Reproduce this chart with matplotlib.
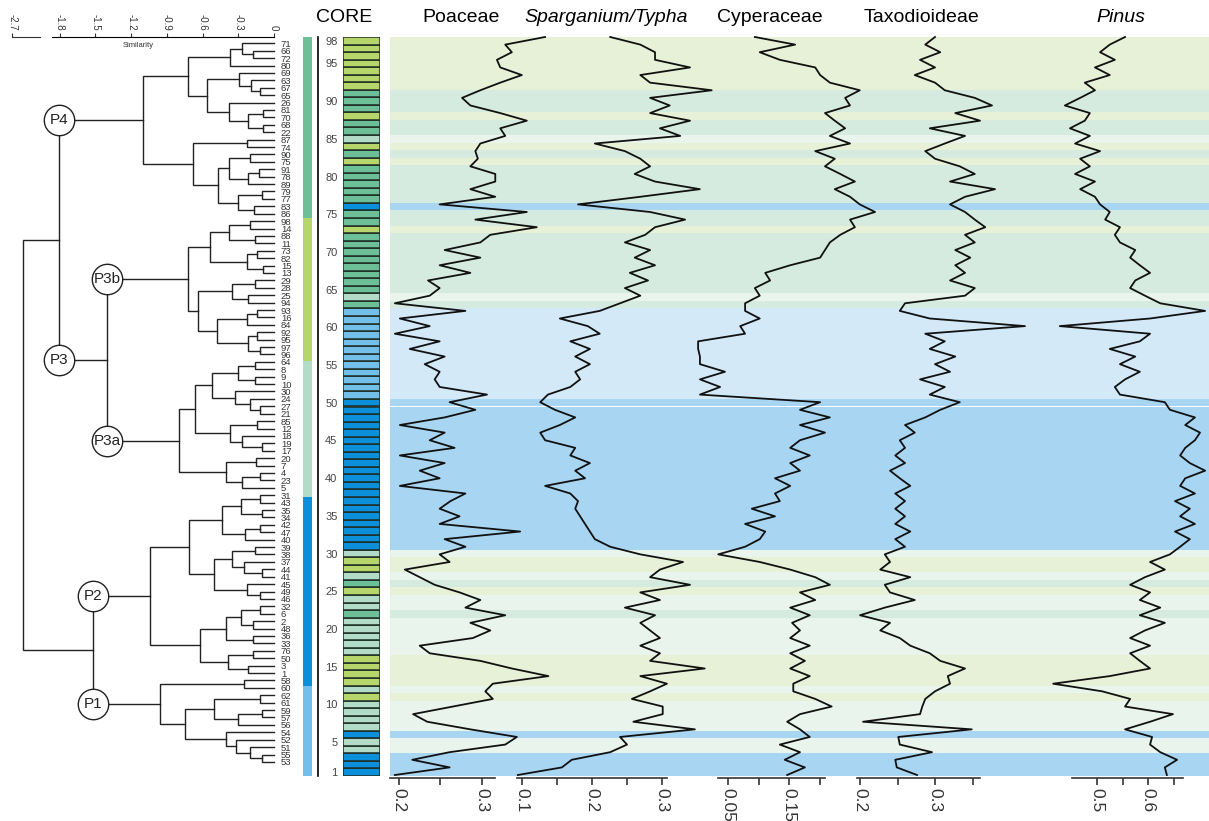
import numpy as np
import matplotlib.pyplot as plt

W, H = 1209, 821
plt.rcParams['font.family'] = ['Liberation Sans', 'DejaVu Sans']

# ---------------------------------------------------------------- data
samples = np.arange(1, 99)

poaceae = [0.195, 0.261, 0.216, 0.261, 0.328, 0.342, 0.286, 0.234, 0.217, 0.265,
           0.313, 0.304, 0.313, 0.380, 0.336, 0.298, 0.237, 0.225, 0.289, 0.310,
           0.286, 0.328, 0.280, 0.298, 0.273, 0.243, 0.225, 0.207, 0.261, 0.249,
           0.280, 0.255, 0.346, 0.249, 0.273, 0.249, 0.262, 0.280, 0.201, 0.249,
           0.225, 0.255, 0.201, 0.267, 0.237, 0.255, 0.201, 0.255, 0.292, 0.261,
           0.306, 0.249, 0.243, 0.249, 0.231, 0.255, 0.213, 0.249, 0.195, 0.237,
           0.201, 0.280, 0.195, 0.237, 0.249, 0.235, 0.286, 0.249, 0.298, 0.255,
           0.298, 0.310, 0.366, 0.292, 0.354, 0.249, 0.316, 0.286, 0.316, 0.316,
           0.286, 0.295, 0.292, 0.298, 0.328, 0.322, 0.354, 0.322, 0.286, 0.276,
           0.298, 0.322, 0.348, 0.322, 0.318, 0.336, 0.328, 0.376]

sparganium = [0.094, 0.157, 0.171, 0.226, 0.250, 0.240, 0.347, 0.259, 0.301, 0.301,
              0.257, 0.283, 0.307, 0.269, 0.361, 0.283, 0.297, 0.269, 0.297, 0.283,
              0.269, 0.290, 0.247, 0.297, 0.269, 0.340, 0.283, 0.297, 0.330, 0.269,
              0.226, 0.204, 0.197, 0.190, 0.183, 0.176, 0.180, 0.169, 0.133, 0.190,
              0.176, 0.197, 0.169, 0.176, 0.133, 0.126, 0.154, 0.176, 0.147, 0.126,
              0.137, 0.169, 0.183, 0.176, 0.197, 0.176, 0.197, 0.169, 0.211, 0.194,
              0.154, 0.211, 0.240, 0.269, 0.247, 0.280, 0.254, 0.290, 0.261, 0.283,
              0.247, 0.276, 0.290, 0.333, 0.283, 0.180, 0.269, 0.354, 0.290, 0.261,
              0.283, 0.269, 0.247, 0.204, 0.326, 0.297, 0.340, 0.283, 0.311, 0.283,
              0.371, 0.283, 0.269, 0.340, 0.290, 0.290, 0.269, 0.226]

cyperaceae = [0.147, 0.176, 0.143, 0.168, 0.135, 0.184, 0.168, 0.147, 0.168, 0.220,
              0.193, 0.157, 0.157, 0.184, 0.152, 0.176, 0.152, 0.184, 0.152, 0.168,
              0.155, 0.184, 0.152, 0.193, 0.168, 0.217, 0.193, 0.152, 0.102, 0.034,
              0.078, 0.102, 0.111, 0.078, 0.127, 0.089, 0.135, 0.127, 0.152, 0.127,
              0.168, 0.152, 0.184, 0.152, 0.168, 0.209, 0.168, 0.217, 0.168, 0.201,
              0.004, 0.037, 0.004, 0.045, 0.004, 0.004, 0.001, 0.001, 0.078, 0.070,
              0.102, 0.078, 0.078, 0.102, 0.094, 0.119, 0.111, 0.152, 0.201, 0.209,
              0.217, 0.234, 0.258, 0.250, 0.291, 0.266, 0.250, 0.225, 0.258, 0.234,
              0.209, 0.225, 0.193, 0.250, 0.217, 0.242, 0.225, 0.209, 0.250, 0.242,
              0.266, 0.217, 0.201, 0.193, 0.135, 0.102, 0.160, 0.094]

taxodioideae = [0.276, 0.249, 0.247, 0.296, 0.253, 0.251, 0.349, 0.204, 0.280, 0.283,
                0.287, 0.300, 0.320, 0.317, 0.340, 0.307, 0.293, 0.267, 0.253, 0.227,
                0.240, 0.200, 0.233, 0.273, 0.240, 0.233, 0.267, 0.227, 0.240, 0.233,
                0.260, 0.247, 0.267, 0.247, 0.260, 0.247, 0.260, 0.247, 0.267, 0.253,
                0.240, 0.260, 0.247, 0.260, 0.253, 0.273, 0.260, 0.287, 0.307, 0.333,
                0.293, 0.313, 0.280, 0.320, 0.300, 0.327, 0.293, 0.313, 0.287, 0.420,
                0.293, 0.253, 0.260, 0.340, 0.353, 0.320, 0.340, 0.327, 0.347, 0.327,
                0.353, 0.340, 0.367, 0.353, 0.340, 0.320, 0.340, 0.380, 0.320, 0.353,
                0.333, 0.300, 0.287, 0.313, 0.340, 0.293, 0.360, 0.327, 0.376, 0.353,
                0.313, 0.300, 0.273, 0.300, 0.280, 0.307, 0.287, 0.300]

pinus = [0.637, 0.633, 0.657, 0.624, 0.604, 0.608, 0.555, 0.604, 0.649, 0.555,
         0.565, 0.510, 0.414, 0.525, 0.604, 0.584, 0.565, 0.604, 0.565, 0.594,
         0.633, 0.584, 0.624, 0.584, 0.604, 0.565, 0.594, 0.633, 0.604, 0.643,
         0.663, 0.682, 0.653, 0.692, 0.663, 0.682, 0.653, 0.692, 0.663, 0.673,
         0.712, 0.682, 0.663, 0.673, 0.692, 0.702, 0.673, 0.692, 0.643, 0.633,
         0.545, 0.535, 0.555, 0.584, 0.545, 0.575, 0.525, 0.584, 0.604, 0.427,
         0.604, 0.712, 0.624, 0.594, 0.565, 0.575, 0.604, 0.584, 0.565, 0.575,
         0.545, 0.535, 0.545, 0.516, 0.525, 0.506, 0.496, 0.467, 0.496, 0.457,
         0.486, 0.467, 0.506, 0.457, 0.486, 0.447, 0.476, 0.486, 0.437, 0.467,
         0.496, 0.476, 0.525, 0.496, 0.535, 0.506, 0.525, 0.555]

taxa = ["Poaceae", "Sparganium/Typha", "Cyperaceae", "Taxodioideae", "Pinus"]
italic = [False, True, False, False, True]
series = [poaceae, sparganium, cyperaceae, taxodioideae, pinus]
major_ticks = [[0.2, 0.3], [0.1, 0.2, 0.3], [0.05, 0.15], [0.2, 0.3], [0.5, 0.6]]
minor_ticks = [[0.25], [0.15, 0.25], [0.1, 0.2], [0.25, 0.35], [0.55, 0.65]]


# cluster tree: (similarity of merge, left, right, group name)
def node(h, a, b, name=None):
    return {"h": h, "kids": (a, b), "name": name}


p4 = node(-1.10,
          node(-0.72,
               node(-0.37, node(-0.27, 71, node(-0.18, 66, 72)), 80),
               node(-0.56,
                    node(-0.29, 69, node(-0.19, 63, node(-0.12, 67, 65))),
                    node(-0.38, 26, node(-0.22, node(-0.09, 81, 70), node(-0.09, 68, 22))))),
          node(-0.68,
               node(-0.23, 87, 74),
               node(-0.47,
                    node(-0.38, node(-0.20, 90, 75), node(-0.22, node(-0.13, 91, 78), 89)),
                    node(-0.30, node(-0.10, 79, 77), node(-0.17, 83, 86)))),
          "P4")

p3b = node(-0.72,
           node(-0.54,
                node(-0.38, node(-0.20, 98, 14), node(-0.16, 88, 11)),
                node(-0.23, node(-0.14, 73, 82), node(-0.09, 15, 13))),
           node(-0.64,
                node(-0.35, node(-0.16, 29, 28), node(-0.22, 25, 94)),
                node(-0.48,
                     node(-0.23, node(-0.14, 93, 16), 84),
                     node(-0.22, node(-0.14, 92, 95), node(-0.12, 97, 96)))),
           "P3b")

p3a = node(-0.80,
           node(-0.66,
                node(-0.52,
                     node(-0.30, node(-0.16, 64, 8), node(-0.16, 9, 10)),
                     node(-0.33, 30, node(-0.20, 24, node(-0.12, 27, 21)))),
                node(-0.37, node(-0.14, 85, 12), node(-0.27, 18, node(-0.10, 19, 17)))),
           node(-0.40, node(-0.15, 20, 7), node(-0.27, node(-0.12, 4, 23), 5)),
           "P3a")

p2 = node(-1.04,
          node(-0.71,
               node(-0.44,
                    node(-0.28, node(-0.12, 31, 43), node(-0.10, 35, 34)),
                    node(-0.24, node(-0.12, 42, 47), 40)),
               node(-0.50,
                    node(-0.35, node(-0.16, 39, 38), node(-0.25, 37, node(-0.10, 44, 41))),
                    node(-0.23, 45, node(-0.12, 49, 46)))),
          node(-0.62,
               node(-0.40,
                    node(-0.28, node(-0.12, 32, 6), node(-0.18, 2, 48)),
                    node(-0.18, 36, 33)),
               node(-0.39, node(-0.18, 76, 50), node(-0.22, 3, 1))),
          "P2")

p1 = node(-0.96,
          node(-0.25, 58, 60),
          node(-0.75,
               node(-0.50, node(-0.12, 62, 61), node(-0.30, node(-0.10, 59, 57), 56)),
               node(-0.40, 54, node(-0.32, 52, node(-0.20, 51, node(-0.10, 55, 53))))),
          "P1")

tree = node(-2.5, node(-1.82, p4, node(-1.40, p3b, p3a, "P3")), node(-1.52, p2, p1))

group_order = ["P4", "P3b", "P3a", "P2", "P1"]
group_colors = {"P4": "#6cbf96", "P3b": "#b6d66b", "P3a": "#b3dcc8",
                "P2": "#0b8fda", "P1": "#72bfea"}
band_colors = {"P4": "#d6ebdf", "P3b": "#e7f1d7", "P3a": "#e8f4ec",
               "P2": "#a8d5f2", "P1": "#d3e9f8"}


def leaves(n):
    if isinstance(n, int):
        return [n]
    return leaves(n["kids"][0]) + leaves(n["kids"][1])


leaf_order = leaves(tree)
leaf_pos = {leaf: i for i, leaf in enumerate(leaf_order)}
group_of = {}
for g in (p4, p3b, p3a, p2, p1):
    for leaf in leaves(g):
        group_of[leaf] = g["name"]


def px_axes(fig, x0, y0, x1, y1):
    return fig.add_axes([x0 / W, 1 - y1 / H, (x1 - x0) / W, (y1 - y0) / H])


fig = plt.figure(figsize=(W / 100, H / 100), dpi=100)

# ---------------------------------------------------------------- dendrogram
ax_d = px_axes(fig, 0, 37, 274, 776)


def fwd(s):
    s = np.asarray(s, dtype=float)
    return np.where(s >= -1.8, s, -1.8 + (s + 1.8) * 0.444)


def inv(u):
    u = np.asarray(u, dtype=float)
    return np.where(u >= -1.8, u, -1.8 + (u + 1.8) / 0.444)


ax_d.set_xscale("function", functions=(fwd, inv))
ax_d.set_xlim(-2.93, 0)
ax_d.set_ylim(98.9, -0.85)

circles = []


def draw(n, parent_h=None):
    if isinstance(n, int):
        return leaf_pos[n], 0.0
    (y1, h1), (y2, h2) = draw(n["kids"][0], n["h"]), draw(n["kids"][1], n["h"])
    ax_d.plot([h1, n["h"], n["h"], h2], [y1, y1, y2, y2], color="#222222", lw=1.0,
              solid_joinstyle="miter", clip_on=False)
    y = (y1 + y2) / 2
    if n["name"] and parent_h is not None:
        circles.append((parent_h, y, n["name"]))
    return y, n["h"]


draw(tree)
for h, y, name in circles:
    ax_d.scatter([h], [y], s=480, facecolor="white", edgecolor="#222222",
                 linewidth=1.0, zorder=3, clip_on=False)
    ax_d.text(h, y, name, ha="center", va="center", fontsize=11, color="#222222", zorder=4)

ax_d.xaxis.tick_top()
sim_ticks = [-2.7, -1.8, -1.5, -1.2, -0.9, -0.6, -0.3, 0]
ax_d.set_xticks(sim_ticks)
ax_d.set_xticklabels([f"{t:g}" for t in sim_ticks])
ax_d.tick_params(axis="x", top=True, bottom=False, labelrotation=270, labelsize=7,
                 length=3, width=0.8, pad=1.5, colors="#333333")
for side in ("left", "right", "bottom"):
    ax_d.spines[side].set_visible(False)
ax_d.spines["top"].set_bounds(-1.948, 0)
ax_d.spines["top"].set_linewidth(0.8)
ax_d.plot([-2.7, -2.174], [1, 1], transform=ax_d.get_xaxis_transform(),
          color="#333333", lw=0.8, clip_on=False)
ax_d.text(0.503, 0.988, "Similarity", transform=ax_d.transAxes, ha="center",
          va="center", fontsize=5.5, color="#333333")
ax_d.yaxis.tick_right()
ax_d.set_yticks(range(len(leaf_order)))
ax_d.set_yticklabels([str(v) for v in leaf_order])
ax_d.tick_params(axis="y", length=0, pad=5, labelsize=6.8, colors="#333333")

# ---------------------------------------------------------------- cluster bar
ax_cb = px_axes(fig, 303, 37, 312, 776)
bottom = 0
for g in group_order:
    count = sum(1 for leaf in leaf_order if group_of[leaf] == g)
    ax_cb.bar(0, count, bottom=bottom, width=1, color=group_colors[g], linewidth=0)
    bottom += count
ax_cb.set_xlim(-0.5, 0.5)
ax_cb.set_ylim(98, 0)
ax_cb.axis("off")

# ---------------------------------------------------------------- core column
ax_ln = px_axes(fig, 318, 37, 320, 776)
ax_ln.set_xticks([])
ax_ln.set_yticks([])
for side in ("top", "right", "bottom"):
    ax_ln.spines[side].set_visible(False)
ax_ln.spines["left"].set_linewidth(1.2)
ax_ln.patch.set_alpha(0)

ax_c = px_axes(fig, 343, 37, 380, 776)
core_colors = [group_colors[group_of[s]] for s in samples]
ax_c.barh(samples, 1, height=1, left=0, color=core_colors, edgecolor="#1e2d24", linewidth=1.1)
ax_c.set_xlim(0, 1)
ax_c.set_ylim(0.5, 98.5)
ax_c.set_xticks([])
depth_ticks = [1] + list(range(5, 96, 5)) + [98]
ax_c.set_yticks(depth_ticks)
ax_c.tick_params(axis="y", length=0, pad=4, labelsize=8, colors="#444444")
for side in ax_c.spines:
    ax_c.spines[side].set_visible(False)
fig.text(344 / W, 1 - 18 / H, "CORE", ha="center", va="center", fontsize=14)

# ---------------------------------------------------------------- zone bands
ax_bg = px_axes(fig, 390, 37, 1209, 776)
ax_bg.barh(samples, 1, height=1, left=0,
           color=[band_colors[group_of[s]] for s in samples], linewidth=0)
ax_bg.set_xlim(0, 1)
ax_bg.set_ylim(0.5, 98.5)
ax_bg.axis("off")

# ---------------------------------------------------------------- pollen curves
xlims = [(0.18916, 1.1759), (-0.0886, 1.0814), (-0.5041, 0.8385),
         (-0.4267, 0.6653), (-0.8863, 0.7196)]
spine_bounds = [(0.189, 0.316), (0.093, 0.307), (0.034, 0.209), (0.196, 0.360), (0.451, 0.669)]
header_x = [461, 606, 770, 922, 1121]

for i, name in enumerate(taxa):
    ax = px_axes(fig, 390, 37, 1209, 778)
    ax.patch.set_alpha(0)
    ax.plot(series[i], samples, color="#111111", lw=1.3, clip_on=False)
    ax.set_xlim(*xlims[i])
    ax.set_ylim(0.606, 98.0)
    for side in ("left", "right", "top"):
        ax.spines[side].set_visible(False)
    ax.spines["bottom"].set_bounds(*spine_bounds[i])
    ax.spines["bottom"].set_linewidth(1.2)
    ax.spines["bottom"].set_color("#333333")
    ax.set_yticks([])
    ax.set_xticks(major_ticks[i])
    ax.set_xticklabels([f"{t:g}" for t in major_ticks[i]])
    ax.set_xticks(minor_ticks[i], minor=True)
    ax.tick_params(axis="x", which="both", length=5, width=1.2, color="#333333")
    ax.tick_params(axis="x", which="major", labelrotation=270, labelsize=12.5,
                   pad=2, labelcolor="#333333")
    fig.text(header_x[i] / W, 1 - 18 / H, name, ha="center", va="center", fontsize=14,
             style="italic" if italic[i] else "normal")

fig.savefig("out.png", dpi=100)
